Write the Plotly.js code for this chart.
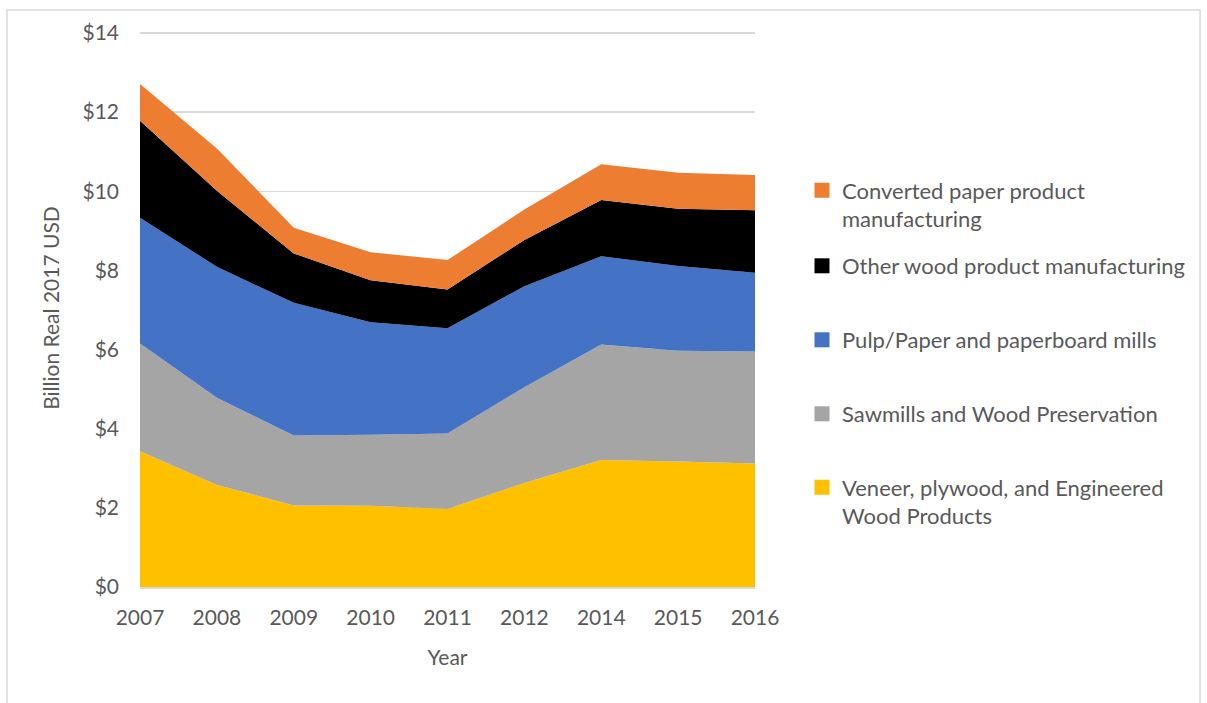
<!DOCTYPE html>
<html>
<head>
<meta charset="utf-8">
<script src="https://cdn.plot.ly/plotly-3.0.1.min.js"></script>
<style>
  html, body { margin: 0; padding: 0; background: #ffffff; }
  #chart { width: 1207px; height: 703px; }
</style>
</head>
<body>
<div id="chart"></div>
<script>
// Categories (note: 2013 is absent in the source chart)
const years = ['2007', '2008', '2009', '2010', '2011', '2012', '2014', '2015', '2016'];

// Y tick values and labels
const yTickVals = [0, 2, 4, 6, 8, 10, 12, 14];
const yTickText = ['$0', '$2', '$4', '$6', '$8', '$10', '$12', '$14'];

// Series values, billion real 2017 USD (stacked bottom to top)
const veneer    = [3.43, 2.58, 2.06, 2.05, 1.97, 2.63, 3.21, 3.17, 3.12];
const sawmills  = [2.72, 2.20, 1.77, 1.80, 1.91, 2.42, 2.92, 2.80, 2.83];
const pulpPaper = [3.18, 3.31, 3.35, 2.84, 2.66, 2.55, 2.23, 2.14, 1.99];
const otherWood = [2.45, 1.92, 1.25, 1.06, 0.98, 1.17, 1.42, 1.45, 1.58];
const converted = [0.93, 1.07, 0.65, 0.71, 0.74, 0.77, 0.90, 0.91, 0.89];

const seriesNames = [
  'Veneer, plywood, and Engineered<br>Wood Products',
  'Sawmills and Wood Preservation',
  'Pulp/Paper and paperboard mills',
  'Other wood product manufacturing',
  'Converted paper product<br>manufacturing'
];
const seriesValues = [veneer, sawmills, pulpPaper, otherWood, converted];
const seriesColors = ['#FFC000', '#A5A5A5', '#4472C4', '#000000', '#ED7D31'];
const legendIds = ['legend5', 'legend4', 'legend3', 'legend2', 'legend'];

const FONT = 'Lato, "Open Sans", sans-serif';
const TXT = '#595959';

const traces = [];
seriesValues.forEach((vals, i) => {
  traces.push({
    type: 'scatter',
    mode: 'none',
    x: years,
    y: vals,
    stackgroup: 'one',
    fillcolor: seriesColors[i],
    name: seriesNames[i],
    showlegend: false,
    hoverinfo: 'skip'
  });
});
// Legend entries (square swatches, Excel style)
seriesValues.forEach((vals, i) => {
  traces.push({
    type: 'scatter',
    mode: 'markers',
    x: [null],
    y: [null],
    name: seriesNames[i],
    marker: { symbol: 'square', size: 15, color: seriesColors[i] },
    legend: legendIds[i],
    showlegend: true,
    hoverinfo: 'skip'
  });
});

const Y_MAX = 14.1;
const plotL = 140, plotR = 755, plotB = 587;
const unitPx = (587 - 33) / 14;
const plotT = Math.round(plotB - Y_MAX * unitPx);
const pw = plotR - plotL, ph = plotB - plotT;
const px = v => (v - plotL) / pw;
const py = v => (plotB - v) / ph;

function legendAt(yCenter) {
  return {
    x: px(802), xanchor: 'left',
    y: py(yCenter), yanchor: 'middle',
    bgcolor: 'rgba(0,0,0,0)',
    borderwidth: 0,
    valign: 'top',
    font: { family: FONT, size: 22, color: TXT }
  };
}

const layout = {
  width: 1207,
  height: 703,
  margin: { l: plotL, r: 1207 - plotR, t: plotT, b: 703 - plotB, pad: 0 },
  paper_bgcolor: '#ffffff',
  plot_bgcolor: '#ffffff',
  font: { family: FONT, size: 21, color: TXT },
  showlegend: true,
  legend:  legendAt(205),
  legend2: legendAt(266),
  legend3: legendAt(340),
  legend4: legendAt(414),
  legend5: legendAt(502),
  xaxis: {
    type: 'category',
    range: [0, years.length - 1],
    showgrid: false,
    showline: true,
    linecolor: '#D9D9D9',
    linewidth: 2,
    layer: 'above traces',
    ticks: '',
    ticklabelstandoff: 11,
    tickfont: { family: FONT, size: 21, color: TXT },
    zeroline: false,
    title: { text: 'Year', font: { family: FONT, size: 21, color: TXT }, standoff: 22 },
    fixedrange: true
  },
  yaxis: {
    range: [0, Y_MAX],
    tickmode: 'array',
    tickvals: yTickVals,
    ticktext: yTickText,
    showgrid: true,
    gridcolor: '#D9D9D9',
    gridwidth: 1.3,
    zeroline: false,
    showline: false,
    ticks: '',
    ticklabelstandoff: 20,
    tickfont: { family: FONT, size: 21, color: TXT },
    title: { text: 'Billion Real 2017 USD', font: { family: FONT, size: 21, color: TXT }, standoff: 17 },
    fixedrange: true
  },
  shapes: [{
    type: 'rect',
    xref: 'paper', yref: 'paper',
    x0: px(7), x1: px(1200),
    y0: py(760), y1: py(10),
    line: { color: '#D9D9D9', width: 1.5 },
    fillcolor: 'rgba(0,0,0,0)',
    layer: 'below'
  }]
};

Plotly.newPlot('chart', traces, layout, { displayModeBar: false, staticPlot: true });
</script>
</body>
</html>
